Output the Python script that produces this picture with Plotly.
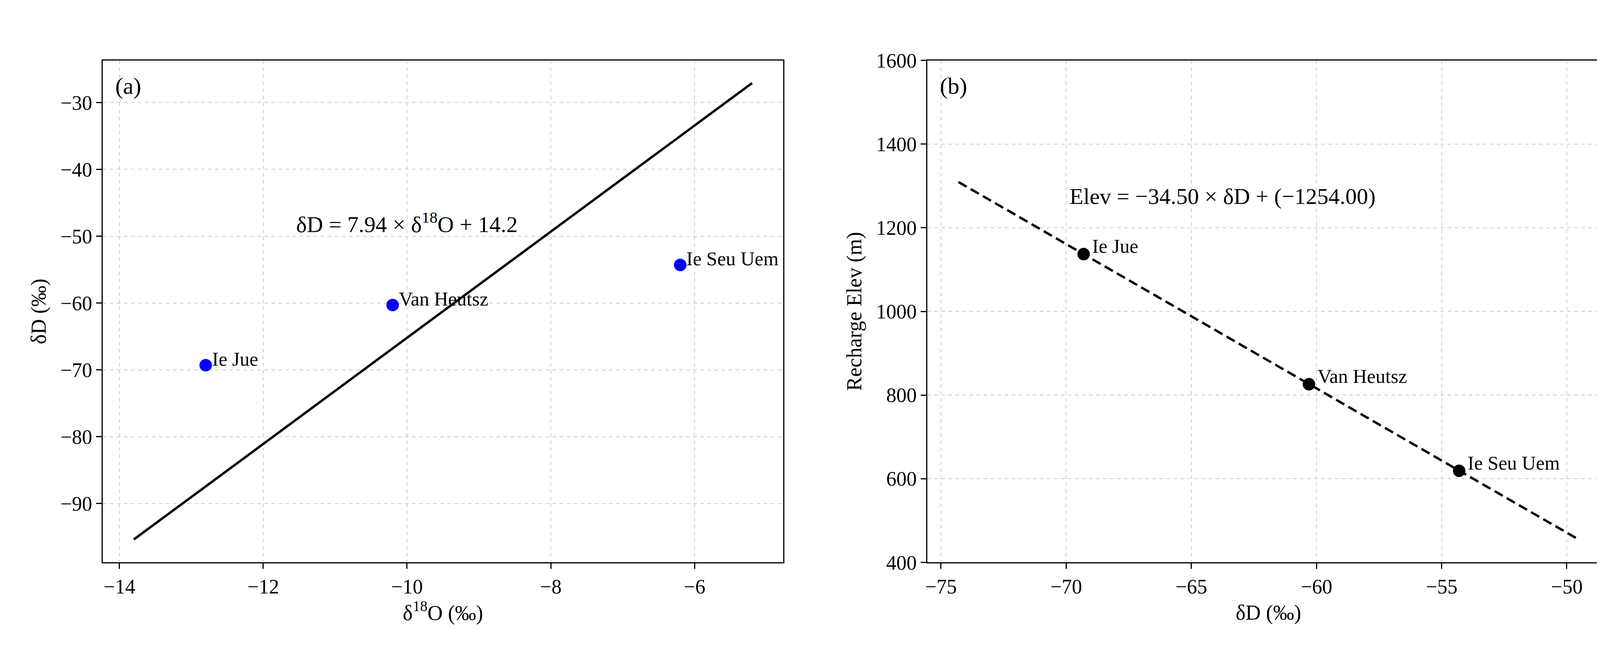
import plotly.graph_objects as go

sites = ["Ie Jue", "Van Heutsz", "Ie Seu Uem"]
d18O = [-12.8, -10.2, -6.2]
dD = [-69.3, -60.3, -54.3]
elev = [1137, 826, 619]
lmwl_x = [-13.8, -5.2]
lmwl_slope, lmwl_int = 7.94, 14.2
fit_x = [-74.3, -49.6]
fit_slope, fit_int = -34.50, -1254.00

F = "Liberation Serif"
fig = go.Figure()
fig.add_trace(go.Scatter(x=lmwl_x, y=[lmwl_slope*v+lmwl_int for v in lmwl_x], mode="lines",
                         line=dict(color="black", width=6), xaxis="x", yaxis="y", showlegend=False))
fig.add_trace(go.Scatter(x=d18O, y=dD, mode="markers", marker=dict(color="blue", size=32),
                         xaxis="x", yaxis="y", showlegend=False))
fig.add_trace(go.Scatter(x=fit_x, y=[fit_slope*v+fit_int for v in fit_x], mode="lines",
                         line=dict(color="black", width=6, dash="24px,12px"), xaxis="x2", yaxis="y2", showlegend=False))
fig.add_trace(go.Scatter(x=dD, y=elev, mode="markers", marker=dict(color="black", size=32),
                         xaxis="x2", yaxis="y2", showlegend=False))

ann = []
for s, x, y in zip(sites, d18O, dD):
    ann.append(dict(x=x, y=y, xref="x", yref="y", text=s, showarrow=False, xanchor="left",
                    yanchor="bottom", xshift=14, yshift=-14, font=dict(family=F, size=50, color="black")))
for s, x, y in zip(sites, dD, elev):
    ann.append(dict(x=x, y=y, xref="x2", yref="y2", text=s, showarrow=False, xanchor="left",
                    yanchor="bottom", xshift=20, yshift=-10, font=dict(family=F, size=50, color="black")))
ann.append(dict(x=-10.0, y=-48.0, xref="x", yref="y", text="δD = 7.94 × δ<sup>18</sup>O + 14.2",
                showarrow=False, font=dict(family=F, size=58, color="black")))
ann.append(dict(x=-69.9, y=1275, xref="x2", yref="y2", text="Elev = −34.50 × δD + (−1254.00)",
                showarrow=False, xanchor="left", font=dict(family=F, size=58, color="black")))
ann.append(dict(x=0.0605, y=0.926, xref="paper", yref="paper", text="(a)", showarrow=False,
                xanchor="left", yanchor="top", xshift=30, yshift=-30, font=dict(family=F, size=60, color="black")))
ann.append(dict(x=0.5726, y=0.926, xref="paper", yref="paper", text="(b)", showarrow=False,
                xanchor="left", yanchor="top", xshift=30, yshift=-30, font=dict(family=F, size=60, color="black")))

ax = dict(showline=True, linecolor="black", linewidth=3, mirror=True, ticks="outside", ticklen=14,
          tickwidth=3, tickcolor="black", showgrid=True, gridcolor="#cccccc", griddash="dash", gridwidth=2,
          zeroline=False, tickfont=dict(family=F, size=52, color="black"),
          title_font=dict(family=F, size=54, color="black"))
fig.update_layout(
    width=4128, height=1660, margin=dict(l=0, r=0, t=0, b=0),
    plot_bgcolor="white", paper_bgcolor="white", annotations=ann,
    xaxis=dict(ax, domain=[0.0605, 0.4829], range=[-14.23, -4.77], dtick=2,
               title=dict(text="δ<sup>18</sup>O (‰)", standoff=20), anchor="y"),
    yaxis=dict(ax, domain=[0.1245, 0.926], range=[-98.8, -23.7], dtick=10,
               title=dict(text="δD (‰)", standoff=20), anchor="x"),
    xaxis2=dict(ax, domain=[0.5726, 0.9961], range=[-75.54, -48.3], dtick=5,
                title=dict(text="δD (‰)", standoff=20), anchor="y2"),
    yaxis2=dict(ax, domain=[0.1245, 0.926], range=[400, 1600], dtick=200,
                title=dict(text="Recharge Elev (m)", standoff=20), anchor="x2"),
)
fig.write_html("out.html")
